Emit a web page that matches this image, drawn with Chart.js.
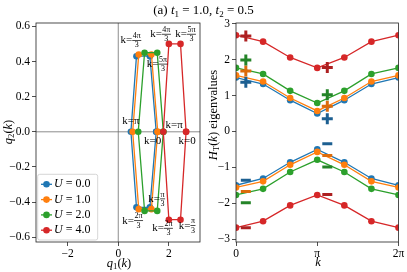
<!DOCTYPE html>
<html lang="en">
<head>
<meta charset="UTF-8">
<title>Winding of q(k) and spectrum of H_T(k)</title>
<script src="https://cdn.jsdelivr.net/npm/chart.js"></script>
<style>
  body { margin: 0; background: #fff; }
  #wrap { position: relative; width: 407px; height: 272px; overflow: hidden; }
  #wrap canvas { position: absolute; top: 0; }
  #title { position: absolute; left: 0; top: 2px; width: 407px; text-align: center;
           font: 13px "Liberation Serif", serif; color: #000; line-height: 16px; }
  #title .s { font-size: 9px; position: relative; top: 3px; }
</style>
</head>
<body>
<div id="wrap">
  <canvas id="leftChart" width="204" height="272" style="left:0"></canvas>
  <canvas id="rightChart" width="203" height="272" style="left:204px"></canvas>
  <div id="title">(a) <i>t</i><span class="s">1</span> = 1.0, <i>t</i><span class="s">2</span> = 0.5</div>
</div>

<script>
    // series labels and colours
    const uLabels = ['0.0', '1.0', '2.0', '4.0'];
    const lineColors = ['#1f77b4', '#ff7f0e', '#2ca02c', '#d62728'];
    const markColors = ['#1c5f91', '#dc6c0c', '#248428', '#ad2021'];

    // left panel: q(k) = (q1, q2) at k = 0, pi/3, 2pi/3, pi, 4pi/3, 5pi/3, 2pi
    const q1U0 = [1.50, 1.25, 0.72, 0.50, 0.72, 1.25, 1.50];
    const q2U0 = [0.00, -0.43, -0.43, 0.00, 0.43, 0.43, 0.00];
    const q1U1 = [1.56, 1.31, 0.81, 0.57, 0.81, 1.31, 1.56];
    const q2U1 = [0.00, -0.44, -0.44, 0.00, 0.44, 0.44, 0.00];
    const q1U2 = [1.78, 1.54, 1.04, 0.79, 1.04, 1.54, 1.78];
    const q2U2 = [0.00, -0.45, -0.45, 0.00, 0.45, 0.45, 0.00];
    const q1U4 = [2.68, 2.46, 2.00, 1.78, 2.00, 2.46, 2.68];
    const q2U4 = [0.00, -0.50, -0.50, 0.00, 0.50, 0.50, 0.00];

    // right panel: eigenvalues of H_T(k)
    const kGrid = [0, Math.PI / 3, 2 * Math.PI / 3, Math.PI, 4 * Math.PI / 3, 5 * Math.PI / 3, 2 * Math.PI];
    const upU0 = [1.50, 1.32, 0.87, 0.50, 0.87, 1.32, 1.50];
    const upU1 = [1.56, 1.39, 0.93, 0.57, 0.93, 1.39, 1.56];
    const upU2 = [1.77, 1.60, 1.13, 0.79, 1.13, 1.60, 1.77];
    const upU4 = [2.68, 2.50, 2.06, 1.77, 2.06, 2.50, 2.68];
    const lowU0 = [-1.50, -1.31, -0.86, -0.50, -0.86, -1.31, -1.50];
    const lowU1 = [-1.56, -1.39, -0.93, -0.57, -0.93, -1.39, -1.56];
    const lowU2 = [-1.77, -1.60, -1.13, -0.79, -1.13, -1.60, -1.77];
    const lowU4 = [-2.68, -2.50, -2.06, -1.77, -2.06, -2.50, -2.68];

    // "+" and "-" markers (k position, value)
    const markK = [0.38, 3.53];
    const plusU0 = [1.37, 0.35];
    const plusU1 = [1.68, 0.70];
    const plusU2 = [1.99, 1.02];
    const plusU4 = [2.66, 1.78];
    const minusU0 = [-1.36, -0.34];
    const minusU1 = [-1.67, -0.67];
    const minusU2 = [-1.99, -0.99];
    const minusU4 = [-2.68, -1.76];

    // ticks
    const leftXTicks = [-2, 0, 2];
    const leftYTicks = [-0.6, -0.4, -0.2, 0, 0.2, 0.4, 0.6];
    const rightXTicks = [0, Math.PI, 2 * Math.PI];
    const rightXLabels = ['0', '\u03c0', '2\u03c0'];
    const rightYTicks = [-3, -2, -1, 0, 1, 2, 3];

    // k labels in the left panel: [q1, q2, numerator, denominator]
    const kNotes = [
        [0.50, 0.52, '4\u03c0', '3'],
        [1.67, 0.555, '4\u03c0', '3'],
        [2.66, 0.555, '5\u03c0', '3'],
        [1.54, 0.385, '5\u03c0', '3'],
        [0.50, 0.062, '\u03c0', ''],
        [2.21, 0.036, '\u03c0', ''],
        [1.36, -0.055, '0', ''],
        [2.72, -0.055, '0', ''],
        [1.52, -0.382, '\u03c0', '3'],
        [0.57, -0.506, '2\u03c0', '3'],
        [1.75, -0.549, '2\u03c0', '3'],
        [2.72, -0.534, '\u03c0', '3']
    ];

    const SERIF = '"Liberation Serif", serif';
    const font = (size, italic) => (italic ? 'italic ' : '') + size + 'px ' + SERIF;
    const minusSign = v => String(v).replace('-', '\u2212');

    // draw a line of text made of [text, italic, subscript] parts, centred on (x, y)
    function richText(ctx, parts, x, y, rot, size) {
        ctx.save();
        ctx.translate(x, y);
        ctx.rotate(rot || 0);
        ctx.textBaseline = 'middle';
        ctx.textAlign = 'left';
        ctx.fillStyle = '#000';
        let w = 0;
        parts.forEach(p => { ctx.font = font(p[2] ? size * 0.7 : size, p[1]); w += ctx.measureText(p[0]).width; });
        let cx = -w / 2;
        parts.forEach(p => {
            ctx.font = font(p[2] ? size * 0.7 : size, p[1]);
            ctx.fillText(p[0], cx, p[2] ? size * 0.25 : 0);
            cx += ctx.measureText(p[0]).width;
        });
        ctx.restore();
    }

    // "k=" followed by a value or a small stacked fraction
    function kLabel(ctx, x, y, num, den) {
        ctx.save();
        ctx.fillStyle = '#000';
        ctx.textBaseline = 'middle';
        ctx.font = font(11);
        const head = den ? 'k=' : 'k=' + num;
        const hw = ctx.measureText(head).width;
        let fw = 0;
        if (den) {
            ctx.font = font(8);
            fw = Math.max(ctx.measureText(num).width, ctx.measureText(den).width) + 1;
        }
        const left = x - (hw + fw) / 2;
        ctx.font = font(11);
        ctx.textAlign = 'left';
        ctx.fillText(head, left, y);
        if (den) {
            const fc = left + hw + fw / 2;
            ctx.font = font(8);
            ctx.textAlign = 'center';
            ctx.fillText(num, fc, y - 4.5);
            ctx.fillText(den, fc, y + 5);
            ctx.fillRect(left + hw, y - 0.4, fw, 0.7);
        }
        ctx.restore();
    }

    // frame round the plot area, optional zero lines
    const framePlugin = {
        id: 'frame',
        beforeDatasetsDraw(chart, args, opts) {
            if (!opts.zeroLines) return;
            const a = chart.chartArea, ctx = chart.ctx;
            const x0 = chart.scales.x.getPixelForValue(0);
            const y0 = chart.scales.y.getPixelForValue(0);
            ctx.save();
            ctx.strokeStyle = '#707070';
            ctx.lineWidth = 0.8;
            ctx.beginPath();
            ctx.moveTo(x0, a.top); ctx.lineTo(x0, a.bottom);
            ctx.moveTo(a.left, y0); ctx.lineTo(a.right, y0);
            ctx.stroke();
            ctx.restore();
        },
        afterDatasetsDraw(chart) {
            const a = chart.chartArea, ctx = chart.ctx;
            ctx.save();
            ctx.strokeStyle = '#222';
            ctx.lineWidth = 0.8;
            ctx.strokeRect(a.left, a.top, a.right - a.left, a.bottom - a.top);
            ctx.restore();
        }
    };

    // labels and legend of the left panel
    const leftExtras = {
        id: 'leftExtras',
        afterDraw(chart) {
            const ctx = chart.ctx, xs = chart.scales.x, ys = chart.scales.y;
            kNotes.forEach(n => kLabel(ctx, xs.getPixelForValue(n[0]), ys.getPixelForValue(n[1]), n[2], n[3]));

            // legend
            ctx.save();
            ctx.fillStyle = 'rgba(255,255,255,0.8)';
            ctx.strokeStyle = '#cccccc';
            ctx.lineWidth = 0.8;
            ctx.beginPath();
            ctx.roundRect(37.7, 174.3, 60, 65.7, 2);
            ctx.fill();
            ctx.stroke();
            chart.data.datasets.forEach((ds, i) => {
                const y = 184.3 + i * 15.3;
                ctx.strokeStyle = ds.borderColor;
                ctx.lineWidth = 1.3;
                ctx.beginPath();
                ctx.moveTo(41, y); ctx.lineTo(52, y);
                ctx.stroke();
                ctx.fillStyle = ds.borderColor;
                ctx.beginPath();
                ctx.arc(46.5, y, 3.3, 0, 2 * Math.PI);
                ctx.fill();
                ctx.fillStyle = '#000';
                ctx.textBaseline = 'middle';
                ctx.textAlign = 'left';
                ctx.font = font(12, true);
                ctx.fillText('U', 54, y);
                const uw = ctx.measureText('U').width;
                ctx.font = font(12);
                ctx.fillText(' = ' + uLabels[i], 54 + uw, y);
            });
            ctx.restore();

            richText(ctx, [['q', true, false], ['2', false, true], ['(', false, false], ['k', true, false], [')', false, false]],
                9, 132, -Math.PI / 2, 12.5);
            richText(ctx, [['q', true, false], ['1', false, true], ['(', false, false], ['k', true, false], [')', false, false]],
                119, 264, 0, 12.5);
        }
    };

    const rightExtras = {
        id: 'rightExtras',
        afterDraw(chart) {
            const ctx = chart.ctx;
            richText(ctx, [['H', true, false], ['T', false, true], ['(', false, false], ['k', true, false], [') eigenvalues', false, false]],
                10, 115, -Math.PI / 2, 12.5);
            richText(ctx, [['k', true, false]], 114, 263, 0, 12.5);
        }
    };

    function scaleOpts(min, max, values, labelOf, size, isX) {
        return {
            type: 'linear',
            min: min,
            max: max,
            afterBuildTicks: s => { s.ticks = values.map(v => ({ value: v })); },
            afterFit: s => { if (isX) s.height = size; else s.width = size; },
            grid: { drawOnChartArea: false, drawTicks: true, tickLength: 4, color: '#222', lineWidth: 0.8 },
            border: { display: false },
            ticks: {
                font: { family: SERIF, size: 11.5 },
                color: '#000',
                padding: isX ? 1 : 2,
                maxRotation: 0,
                autoSkip: false,
                callback: (v, i) => labelOf(v, i)
            }
        };
    }

    const q1Lists = [q1U0, q1U1, q1U2, q1U4];
    const q2Lists = [q2U0, q2U1, q2U2, q2U4];
    const upLists = [upU0, upU1, upU2, upU4];
    const lowLists = [lowU0, lowU1, lowU2, lowU4];
    const plusLists = [plusU0, plusU1, plusU2, plusU4];
    const minusLists = [minusU0, minusU1, minusU2, minusU4];

    // left chart
    const leftSets = q1Lists.map((q1, i) => ({
        label: 'U = ' + uLabels[i],
        data: q1.map((x, j) => ({ x: x, y: q2Lists[i][j] })),
        borderColor: lineColors[i],
        backgroundColor: lineColors[i],
        borderWidth: 1.3,
        pointRadius: 3.3,
        pointBorderWidth: 0,
        showLine: true,
        order: 10 - i
    }));

    new Chart(document.getElementById('leftChart').getContext('2d'), {
        type: 'scatter',
        data: { datasets: leftSets },
        options: {
            responsive: false,
            animation: false,
            devicePixelRatio: 1,
            layout: { padding: { top: 23, right: 2, left: 0, bottom: 0 } },
            scales: {
                x: scaleOpts(-3.25, 3.23, leftXTicks, v => minusSign(v), 30, true),
                y: scaleOpts(-0.627, 0.619, leftYTicks, v => minusSign(v.toFixed(1)), 36, false)
            },
            plugins: { legend: { display: false }, tooltip: { enabled: false }, frame: { zeroLines: true } }
        },
        plugins: [framePlugin, leftExtras]
    });

    // right chart
    const rightSets = [];
    upLists.forEach((up, i) => {
        const base = { borderColor: lineColors[i], backgroundColor: lineColors[i], borderWidth: 1.3,
                       pointRadius: 3.3, pointBorderWidth: 0, showLine: true, clip: 0, order: 100 - i };
        rightSets.push(Object.assign({}, base, { data: kGrid.map((k, j) => ({ x: k, y: up[j] })) }));
        rightSets.push(Object.assign({}, base, { data: kGrid.map((k, j) => ({ x: k, y: lowLists[i][j] })) }));
    });
    plusLists.forEach((pl, i) => {
        rightSets.push({
            data: markK.map((k, j) => ({ x: k, y: pl[j] })),
            pointStyle: 'cross', pointRadius: 5.5, borderWidth: 3, borderColor: markColors[i],
            backgroundColor: markColors[i], showLine: false, clip: 0, order: 10 - i
        });
        rightSets.push({
            data: markK.map((k, j) => ({ x: k, y: minusLists[i][j] })),
            pointStyle: 'line', pointRadius: 5, borderWidth: 3, borderColor: markColors[i],
            backgroundColor: markColors[i], showLine: false, clip: 0, order: 10 - i
        });
    });

    new Chart(document.getElementById('rightChart').getContext('2d'), {
        type: 'scatter',
        data: { datasets: rightSets },
        options: {
            responsive: false,
            animation: false,
            devicePixelRatio: 1,
            layout: { padding: { top: 23, right: 6, left: 0, bottom: 0 } },
            scales: {
                x: scaleOpts(0, 2 * Math.PI, rightXTicks, (v, i) => rightXLabels[i], 30, true),
                y: scaleOpts(-3.08, 3.02, rightYTicks, v => minusSign(v), 32, false)
            },
            plugins: { legend: { display: false }, tooltip: { enabled: false }, frame: { zeroLines: false } }
        },
        plugins: [framePlugin, rightExtras]
    });
</script>
</body>
</html>
